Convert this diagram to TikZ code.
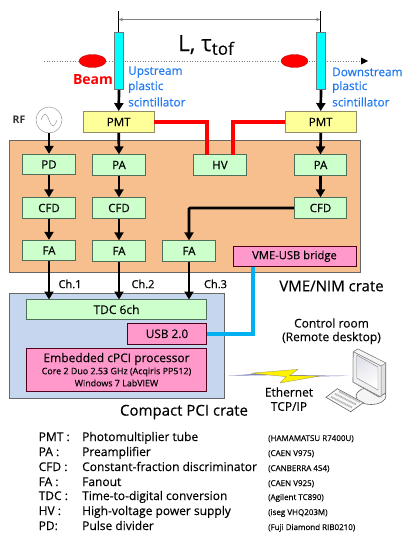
\documentclass[tikz,border=0pt]{standalone}
\usepackage{fontspec}
\setmainfont{Open Sans}[UprightFeatures={FakeBold=0.25}]
\usetikzlibrary{arrows.meta,calc,shapes.geometric}
\definecolor{lgreen}{HTML}{CCFFCC}
\definecolor{lyellow}{HTML}{FFFF99}
\definecolor{lpink}{HTML}{FF99CC}
\definecolor{crateO}{HTML}{F8BF8E}
\definecolor{crateB}{HTML}{C6D6EE}
\definecolor{edgeG}{HTML}{4F6F5A}
\definecolor{labB}{HTML}{1F78F0}
\definecolor{usbB}{HTML}{00B0F0}
\definecolor{scintC}{HTML}{00FFFF}
\newcommand{\fs}[1]{\fontsize{#1}{#1}\selectfont}
\tikzset{
  boxg/.style={draw=edgeG,line width=.8pt,fill=lgreen,minimum width=52.5pt,minimum height=20.5pt,inner sep=0pt,font=\fs{11.5}},
  pmtbox/.style={draw=gray!70!olive,line width=.9pt,fill=lyellow,minimum width=70.5pt,minimum height=21pt,inner sep=0pt,font=\fs{11.5}},
  pinkbox/.style={draw=black!60!purple,line width=.8pt,fill=lpink,inner sep=0pt},
  crate/.style={draw=black!60,line width=.7pt,inner sep=0pt},
  scint/.style={draw=black!55,line width=.7pt,fill=scintC,minimum width=9pt,minimum height=57pt,inner sep=0pt},
  bunch/.style={draw=red!70!black,line width=.3pt,fill=red,ellipse,minimum width=27pt,minimum height=13pt,inner sep=0pt},
  sig/.style={line width=2.7pt,-{Triangle[length=8pt,width=9pt]}},
  hvline/.style={red,line width=3.2pt},
  txt/.style={inner sep=0pt,font=\fs{11}},
  blabel/.style={inner sep=0pt,anchor=west,text=labB,font=\fs{11.8}},
  leg/.style={inner sep=0pt,anchor=base west,font=\fs{12}},
  legs/.style={inner sep=0pt,anchor=base west,font=\fs{8}},
}
\begin{document}
\begin{tikzpicture}[x=1pt,y=-1pt]
\useasboundingbox (0,0) rectangle (402,533);
% crates
\node[crate,fill=crateO,minimum width=351pt,minimum height=132pt] (vme) at (185,206.5) {};
\node[crate,fill=crateB,minimum width=215pt,minimum height=105pt] (cpci) at (117,346) {};
% scintillators and beam
\coordinate (beamA) at (44,61);
\coordinate (beamB) at (368,61);
\draw[gray,dotted,line width=.6pt] (beamA) -- (362,61);
\fill[black] (361,57.5) -- (beamB) -- (361,64.5) -- cycle;
\node[bunch] (bunchA) at (92.5,61) {};
\node[bunch] (bunchB) at (294.5,61) {};
\node[scint] (scA) at (119,61) {};
\node[scint] (scB) at (321,61) {};
\coordinate (tickAt) at (118.5,11);
\coordinate (tickBt) at (320.5,11);
\draw[line width=.7pt] (tickAt) -- (tickAt |- scA.north);
\draw[line width=.7pt] (tickBt) -- (tickBt |- scB.north);
\coordinate (dimA) at (118.8,19.5);
\coordinate (dimB) at (320.2,19.5);
\draw[gray,line width=.8pt,{Stealth[length=4pt,width=3.5pt]}-{Stealth[length=4pt,width=3.5pt]}] (dimA) -- (dimB);
\node[inner sep=0pt,font=\fs{22.5}] (tof) at (206,45) {L, τ\raisebox{-.3ex}{\fs{17}tof}};
\node[inner sep=0pt,text=red,font=\fs{14}\bfseries] (beam) at (93,80) {Beam};
\node[blabel] (up1) at (128,72) {Upstream};
\node[blabel] (up2) at (128,87) {plastic};
\node[blabel] (up3) at (128,102) {scintillator};
\node[blabel] (dn1) at (332,72) {Downstream};
\node[blabel] (dn2) at (332,87) {plastic};
\node[blabel] (dn3) at (332,102) {scintillator};
% PMT
\node[pmtbox] (pmtA) at (118.7,122) {PMT};
\node[pmtbox] (pmtB) at (320.7,122) {PMT};
\node[txt,font=\fs{10.5}\bfseries,text=black!80] (rf) at (19,120) {RF};
\node[draw=gray!80,line width=.5pt,fill=white,circle,minimum size=26pt,inner sep=0pt] (osc) at (49,120) {};
\draw[gray!80,line width=.5pt] (41,120) .. controls (44,112) and (46,112) .. (49,120) .. controls (52,128) and (54,128) .. (57,120);
% VME modules
\node[boxg] (pd) at (49,164.5) {PD};
\node[boxg] (paA) at (119,165) {PA};
\node[boxg] (hv) at (220,165) {HV};
\node[boxg] (paB) at (320.5,165) {PA};
\node[boxg] (cfdA) at (49,208) {CFD};
\node[boxg] (cfdB) at (119,208) {CFD};
\node[boxg] (cfdC) at (320.5,208) {CFD};
\node[boxg] (faA) at (49,250.5) {FA};
\node[boxg] (faB) at (119,251) {FA};
\node[boxg] (faC) at (189,251) {FA};
\node[pinkbox,minimum width=123pt,minimum height=20.5pt,font=\fs{11.2}] (bridge) at (294.5,256.3) {VME-USB bridge};
% cPCI modules
\node[boxg,minimum width=180pt,minimum height=20pt,font=\fs{12}] (tdc) at (116.5,309.5) {TDC 6ch};
\node[pinkbox,minimum width=79pt,minimum height=20.5pt,font=\fs{11.8}] (usb) at (167,333.8) {USB 2.0};
\node[pinkbox,minimum width=180pt,minimum height=43.5pt] (cpu) at (116.5,369.8) {};
\node[inner sep=0pt,font=\fs{12}] (cpu1) at (116.5,359) {Embedded cPCI processor};
\node[inner sep=0pt,font=\fs{8.9}] (cpu2) at (116.5,372) {Core 2 Duo 2.53 GHz (Acqiris PP512)};
\node[inner sep=0pt,font=\fs{8.9}] (cpu3) at (116.5,383) {Windows 7 LabVIEW};
% signal arrows
\draw[sig] (scA.south) -- (pmtA.north);
\draw[sig] (scB.south) -- (pmtB.north);
\draw[sig] (osc.south) -- (pd.north);
\draw[sig] (pmtA.south) -- (paA.north);
\draw[sig] (pmtB.south) -- (paB.north);
\draw[sig] (pd.south) -- (cfdA.north);
\draw[sig] (paA.south) -- (cfdB.north);
\draw[sig] (paB.south) -- (cfdC.north);
\draw[sig] (cfdA.south) -- (faA.north);
\draw[sig] (cfdB.south) -- (faB.north);
\draw[sig,rounded corners=1pt] (cfdC.west) -| (faC.north);
\coordinate (tdcA) at (49,299.5);
\coordinate (tdcB) at (119,299.5);
\coordinate (tdcC) at (189,299.5);
\draw[sig] (faA.south) -- (tdcA);
\draw[sig] (faB.south) -- (tdcB);
\draw[sig] (faC.south) -- (tdcC);
% HV lines
\coordinate (hvL) at (207,154.5);
\coordinate (hvR) at (233,154.5);
\draw[hvline] (pmtA.east) -| (hvL);
\draw[hvline] (pmtB.west) -| (hvR);
% USB link
\coordinate (brOut) at (253,266.5);
\draw[usbB,line width=3.5pt] (usb.east) -| (brOut);
% labels
\node[txt] (ch1) at (70,284) {Ch.1};
\node[txt] (ch2) at (143,284) {Ch.2};
\node[txt] (ch3) at (215.5,284) {Ch.3};
\node[inner sep=0pt,font=\fs{15}] (vmel) at (331.5,286) {VME/NIM crate};
\node[inner sep=0pt,font=\fs{15}] (cpcil) at (184,412) {Compact PCI crate};
\node[inner sep=0pt,font=\fs{12}] (ctrl1) at (331.5,323) {Control room};
\node[inner sep=0pt,font=\fs{12}] (ctrl2) at (331.5,338) {(Remote desktop)};
\node[inner sep=0pt,font=\fs{12}] (eth1) at (289,392) {Ethernet};
\node[inner sep=0pt,font=\fs{12}] (eth2) at (289,406.5) {TCP/IP};
% lightning
\fill[blue!30!gray,opacity=.75] (228,375.8) -- (283,371.8) -- (283,375) -- cycle;
\fill[blue!30!gray,opacity=.75] (349,375.8) -- (287,375) -- (287,377.2) -- cycle;
\draw[gray!70!olive,line width=.3pt,fill=yellow] (251,373.2) -- (298,369.3) -- (289.5,375.7) -- (320,376) -- (280,383) -- (286,376.6) -- cycle;
% computer
\draw[black!60,line width=.6pt,fill=gray!8] (371,396) ellipse[x radius=15pt,y radius=8.5pt];
\draw[black!60,line width=.6pt,fill=gray!25] (353.3,351.7) -- (358,349) -- (385.7,363) -- (385.7,393) -- (379,397) -- (353,382) -- cycle;
\draw[black!50,line width=.4pt,fill=gray!8] (353.3,351.7) -- (358,349) -- (385.7,363) -- (381,366) -- cycle;
\draw[black!50,line width=.5pt,fill=gray!12] (353.3,351.7) -- (381,366) -- (381,397) -- (353,382) -- cycle;
\shade[top color=blue!18!gray!20,bottom color=white,shading angle=30,draw=black!50,line width=.4pt] (356.7,355) -- (378,367) -- (378,390) -- (356.7,378) -- cycle;
\draw[black!60,line width=.6pt,fill=gray!5] (326,397.3) -- (337.3,388.7) -- (363.3,402.7) -- (350.7,411.7) -- cycle;
\draw[gray!60,line width=1.8pt,dash pattern=on 1pt off .6pt] (331,396.8) -- (352,407.5);
\draw[gray!60,line width=1.8pt,dash pattern=on 1pt off .6pt] (335,393.8) -- (356,404.5);
\draw[gray!60,line width=1.8pt,dash pattern=on 1pt off .6pt] (339,391.3) -- (360,402);
% legend
\foreach \n/\yy/\a/\b/\c in {1/441/PMT :/Photomultiplier tube/(HAMAMATSU R7400U),
  2/456/PA :/Preamplifier/(CAEN V975),
  3/471/CFD :/Constant-fraction discriminator/(CANBERRA 454),
  4/486/FA :/Fanout/(CAEN V925),
  5/500/TDC :/Time-to-digital conversion/(Agilent TC890),
  6/515/HV :/High-voltage power supply/(iseg VHQ203M),
  7/530/PD:/Pulse divider/(Fuji Diamond RIB0210)}{
  \node[leg] (la\n) at (38.5,\yy) {\a};
  \node[leg] (lb\n) at (82,\yy) {\b};
  \node[legs] (lc\n) at (268,\yy) {\c};
}
\end{tikzpicture}
\end{document}
